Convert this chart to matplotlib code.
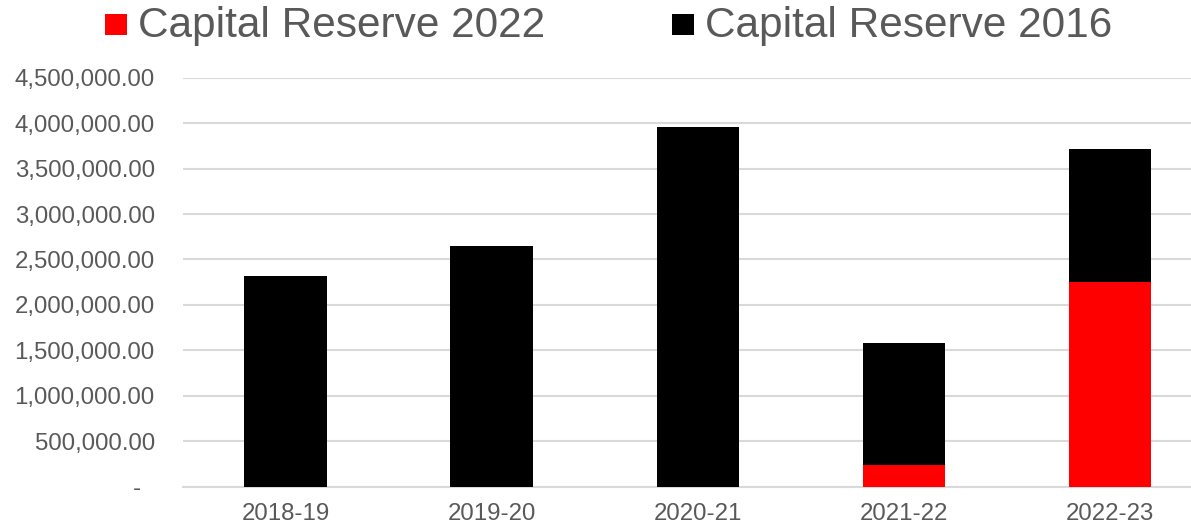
import matplotlib
matplotlib.use("Agg")
import matplotlib.pyplot as plt
from matplotlib.ticker import FuncFormatter
from matplotlib.patches import Rectangle

categories = ["2018-19", "2019-20", "2020-21", "2021-22", "2022-23"]
reserve_2022 = [0, 0, 0, 239000, 2249000]
reserve_2016 = [2321000, 2648000, 3957000, 1338000, 1463000]
y_ticks = [0, 500000, 1000000, 1500000, 2000000, 2500000, 3000000, 3500000, 4000000, 4500000]
series_labels = ["Capital Reserve 2022", "Capital Reserve 2016"]
series_colors = ["#ff0000", "#000000"]

plt.rcParams['font.family'] = ['Liberation Sans', 'DejaVu Sans']
text_color = "#595959"
grid_color = "#d9d9d9"

W, H = 1191, 527
fig = plt.figure(figsize=(W / 100, H / 100), dpi=100)
ax = fig.add_axes([0.1533, 0.0765, 0.8652, 0.7761])

x = list(range(len(categories)))
ax.bar(x, reserve_2022, width=0.4, color=series_colors[0], zorder=3)
ax.bar(x, reserve_2016, width=0.4, bottom=reserve_2022, color=series_colors[1], zorder=3)

ax.set_xlim(-0.5, len(categories) - 0.5)
ax.set_ylim(0, 4500000)
ax.set_yticks(y_ticks)
ax.yaxis.set_major_formatter(FuncFormatter(
    lambda v, p: "-\u00a0\u00a0" if v == 0 else f"{v:,.2f}"))
ax.set_xticks(x)
ax.set_xticklabels(categories)

ax.grid(axis="y", color=grid_color, linewidth=1.5, zorder=0)
for s in ["top", "right", "left"]:
    ax.spines[s].set_visible(False)
ax.spines["bottom"].set_color(grid_color)
ax.spines["bottom"].set_linewidth(1.5)
ax.tick_params(axis="both", length=0, labelcolor=text_color, labelsize=17.3)
ax.tick_params(axis="y", pad=20)
ax.tick_params(axis="x", pad=12)

# legend (drawn in pixel positions at top of figure)
legend_items = [(105, 138), (672, 705)]
for (mx, tx), lab, col in zip(legend_items, series_labels, series_colors):
    fig.patches.append(Rectangle((mx / W, 1 - 35 / H), 21.5 / W, 21 / H,
                                 transform=fig.transFigure, facecolor=col,
                                 edgecolor="none", figure=fig))
    fig.text(tx / W, 1 - 37 / H, lab, fontsize=30.5, color=text_color,
             ha="left", va="baseline")

fig.savefig("out.png", dpi=100)
